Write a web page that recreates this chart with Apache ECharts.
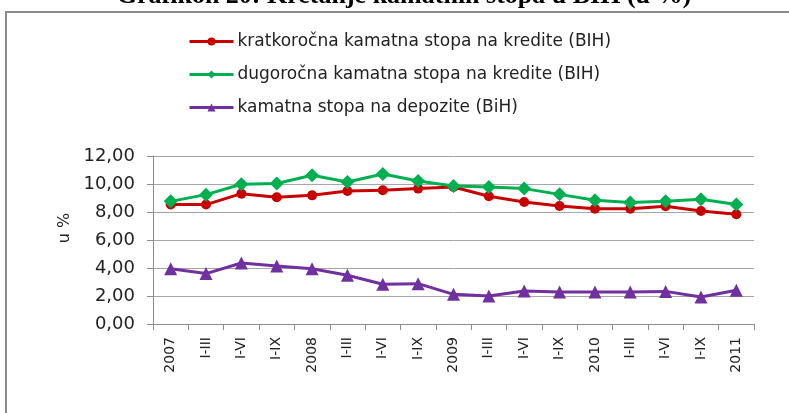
<!DOCTYPE html>
<html>
<head>
<meta charset="utf-8">
<script src="https://cdn.jsdelivr.net/npm/echarts@6/dist/echarts.min.js"></script>
<style>
  html, body { margin: 0; padding: 0; background: #fff; }
  #chart { width: 789px; height: 413px; }
</style>
</head>
<body>
<div id="chart"></div>
<script>
  const categories = ['2007', 'I-III', 'I-VI', 'I-IX', '2008', 'I-III', 'I-VI', 'I-IX', '2009', 'I-III', 'I-VI', 'I-IX', '2010', 'I-III', 'I-VI', 'I-IX', '2011']
  const kratkorocna = [8.53, 8.53, 9.31, 9.05, 9.19, 9.5, 9.55, 9.67, 9.79, 9.12, 8.72, 8.43, 8.24, 8.24, 8.41, 8.07, 7.84]
  const dugorocna = [8.76, 9.24, 9.98, 10.03, 10.62, 10.14, 10.71, 10.21, 9.86, 9.79, 9.67, 9.26, 8.84, 8.67, 8.76, 8.91, 8.53]
  const depoziti = [3.95, 3.6, 4.36, 4.14, 3.95, 3.48, 2.84, 2.88, 2.12, 2.0, 2.36, 2.29, 2.29, 2.29, 2.33, 1.93, 2.41]
  const seriesNames = [
    'kratkoročna kamatna stopa na kredite (BIH)',
    'dugoročna kamatna stopa na kredite (BIH)',
    'kamatna stopa na depozite (BiH)',
  ]

  const chart = echarts.init(document.getElementById('chart'))
  const font = 'DejaVu Sans'

  const option = {
    animation: false,
    color: ['#c80000', '#00b050', '#7030a0'],
    graphic: [
      {
        type: 'rect',
        shape: { x: 6, y: 12, width: 820, height: 440 },
        style: { fill: 'none', stroke: '#8c8c8c', lineWidth: 2 },
        z: -1,
      },
      {
        type: 'text',
        x: 404,
        y: 9,
        style: {
          text: 'Grafikon 20: Kretanje kamatnih stopa u BIH (u %)',
          font: 'bold 26px "Liberation Serif"',
          fill: '#000',
          align: 'center',
          verticalAlign: 'bottom',
        },
      },
    ],
    legend: {
      orient: 'vertical',
      left: 183,
      top: 28,
      itemWidth: 44,
      itemHeight: 10,
      itemGap: 16,
      selectedMode: false,
      lineStyle: { width: 3 },
      textStyle: { fontFamily: font, fontSize: 17, color: '#222', padding: [0, 0, 0, -1] },
      data: seriesNames,
    },
    grid: {
      left: 153,
      right: 35,
      top: 156,
      bottom: 89,
    },
    xAxis: {
      type: 'category',
      data: categories,
      boundaryGap: true,
      axisLine: { lineStyle: { color: '#8c8c8c', width: 1 } },
      axisTick: { show: true, length: 6, lineStyle: { color: '#8c8c8c' } },
      axisLabel: {
        interval: 0,
        rotate: 90,
        margin: 13,
        fontFamily: font,
        fontSize: 14,
        color: '#222',
      },
    },
    yAxis: {
      type: 'value',
      min: 0,
      max: 12,
      interval: 2,
      name: 'u %',
      nameLocation: 'middle',
      nameGap: 80,
      nameRotate: 90,
      nameTextStyle: { fontFamily: font, fontSize: 16, color: '#222', padding: [0, 0, 0, 24] },
      axisLine: { show: true, lineStyle: { color: '#8c8c8c' } },
      axisTick: { show: true, length: 6, lineStyle: { color: '#8c8c8c' } },
      splitLine: { lineStyle: { color: '#a6a6a6', width: 1 } },
      axisLabel: {
        margin: 18,
        fontFamily: font,
        fontSize: 18,
        color: '#222',
        formatter: v => v.toFixed(2).replace('.', ','),
      },
    },
    series: [
      {
        name: seriesNames[0],
        type: 'line',
        data: kratkorocna,
        symbol: 'circle',
        symbolSize: 10,
        lineStyle: { width: 3 },
      },
      {
        name: seriesNames[1],
        type: 'line',
        data: dugorocna,
        symbol: 'diamond',
        symbolSize: 14,
        lineStyle: { width: 3 },
      },
      {
        name: seriesNames[2],
        type: 'line',
        data: depoziti,
        symbol: 'triangle',
        symbolSize: 13,
        lineStyle: { width: 3 },
      },
    ],
  }

  chart.setOption(option)
</script>
</body>
</html>
